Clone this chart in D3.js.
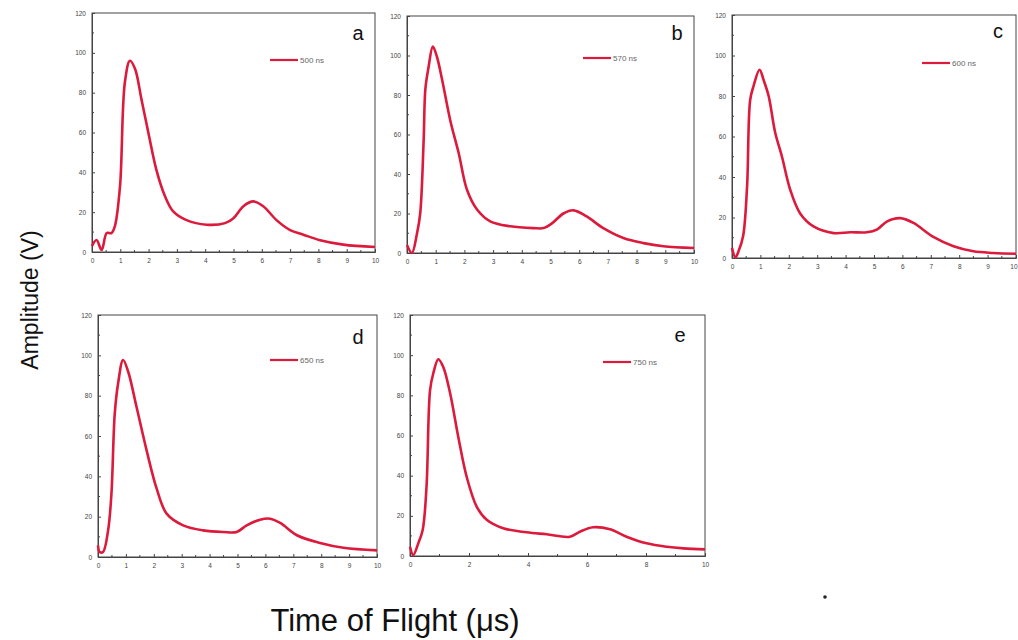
<!DOCTYPE html>
<html><head><meta charset="utf-8">
<script src="https://cdn.jsdelivr.net/npm/d3@7"></script>
<style>body{margin:0;background:#fff;}svg{display:block;font-family:"Liberation Sans",Arial,sans-serif;}</style>
</head><body><svg id="c" width="1018" height="640"></svg>
<script>
const panelLetters = ["a","b","c","d","e"];
const legendLabels = ["500 ns","570 ns","600 ns","650 ns","750 ns"];
const yTicks = [0,20,40,60,80,100,120];
const xTicksMain = [0,1,2,3,4,5,6,7,8,9,10];
const xTicksE = [0,2,4,6,8,10];
const xTitle = "Time of Flight (\u03bcs)";
const yTitle = "Amplitude (V)";

const timeA = [0,0.16,0.34,0.52,0.69,0.81,0.99,1.16,1.34,1.52,1.75,1.99,2.28,2.58,2.87,3.34,4.05,4.7,5.0,5.35,5.7,6.05,6.52,7.0,7.47,8.06,8.88,10];
const ampA  = [3,6,1,9.5,9.5,13,33,85,96,92,76.5,60,41,28,20.4,16,13.7,14.5,17,23,25.4,23,16,11,8.7,5.9,3.7,2.5];
const timeB = [0,0.17,0.35,0.46,0.58,0.64,0.75,0.9,1.04,1.22,1.51,1.8,2.09,2.44,2.9,3.6,4.41,4.76,5.05,5.45,5.8,6.26,6.84,7.54,8.24,8.93,10];
const ampB  = [4,0,10,20,57,83,94,104.5,99.5,88,67,50.6,32,22,16,13.5,12.6,12.6,15,20,21.6,18.5,12.6,7.6,5,3.4,2.5];
const timeC = [0,0.12,0.23,0.39,0.53,0.64,0.76,0.97,1.11,1.29,1.52,1.76,2.05,2.4,2.87,3.58,4.16,4.75,5.1,5.45,5.92,6.39,7.09,7.8,8.5,9.2,10];
const ampC  = [5,0.3,3.3,10.7,35,78,85,93,88,80,62,50,33.7,22,15.6,12.3,12.7,12.7,14,18,19.7,17.3,10.4,5.8,3.3,2.5,2.1];
const timeD = [0,0.06,0.18,0.36,0.48,0.6,0.72,0.9,1.08,1.38,1.74,2.1,2.46,3.05,3.77,4.49,4.97,5.33,5.81,6.17,6.53,7.13,7.96,8.8,10];
const ampD  = [5.8,2.5,2.5,13,31,71,86,97.7,92,74.5,53,34,21.5,15.7,13.2,12.4,12.4,15.7,18.5,19,16.9,10.8,7,4.6,3.3];
const timeE = [0,0.11,0.28,0.43,0.56,0.68,0.79,0.96,1.13,1.36,1.64,1.92,2.26,2.6,3.16,3.95,4.63,5.42,5.76,6.21,6.78,7.34,8.02,8.7,9.27,10];
const ampE  = [4.6,0.5,6.3,13,34.5,82.6,91,98,94,81,59,39.5,24.6,18,13.8,11.8,10.8,9.6,12.1,14.3,13.3,9.6,6.3,4.6,3.8,3.3];

const times = [timeA,timeB,timeC,timeD,timeE];
const amps = [ampA,ampB,ampC,ampD,ampE];

// panel boxes [left, right, top, bottom]
const boxes = [[92,375,13,252],[407,694,16,253],[732,1016,15,258],[98,377,315,557],[410,705,315,556]];
const letterPos = [[358,40],[677,40],[998,38],[358,344],[680,342]];
const legendPos = [[270,60],[583,58],[922,63],[270,360],[603,362]];

const svg = d3.select("#c");
const lineColor = "#dc1a3c";

boxes.forEach((b,i)=>{
  const x = d3.scaleLinear().domain([0,10]).range([b[0],b[1]]);
  const y = d3.scaleLinear().domain([0,120]).range([b[3],b[2]]);
  const g = svg.append("g");
  g.append("rect").attr("x",b[0]).attr("y",b[2]).attr("width",b[1]-b[0]).attr("height",b[3]-b[2])
    .attr("fill","none").attr("stroke","#444").attr("stroke-width",1);
  const xt = i===4 ? xTicksE : xTicksMain;
  const xAxis = d3.axisBottom(x).tickValues(xt).tickSize(-3).tickPadding(6).tickFormat(d3.format("d"));
  const gx = g.append("g").attr("transform",`translate(0,${b[3]})`).call(xAxis);
  const minorX = d3.range(0,10.01,i===4?1:0.5).filter(v=>!xt.includes(v));
  gx.selectAll(".minor").data(minorX).enter().append("line").attr("class","minor")
    .attr("x1",d=>x(d)).attr("x2",d=>x(d)).attr("y1",0).attr("y2",-2).attr("stroke","#444");
  const yAxis = d3.axisLeft(y).tickValues(yTicks).tickSize(-3).tickPadding(6);
  const gy = g.append("g").attr("transform",`translate(${b[0]},0)`).call(yAxis);
  const minorY = d3.range(10,120,20);
  gy.selectAll(".minor").data(minorY).enter().append("line").attr("class","minor")
    .attr("x1",0).attr("x2",2).attr("y1",d=>y(d)).attr("y2",d=>y(d)).attr("stroke","#444");
  [gx,gy].forEach(ax=>{
    ax.select(".domain").attr("stroke","#444");
    ax.selectAll(".tick line").attr("stroke","#444");
    ax.selectAll(".tick text").attr("font-size",6.5).attr("fill","#444").attr("font-family","Liberation Sans, Arial, sans-serif");
  });
  if (b[1] > 1010) {
    gx.selectAll(".tick text").filter(d=>d===10).attr("text-anchor","end").attr("dx","1");
  }
  const data = times[i].map((t,k)=>[t,amps[i][k]]);
  g.append("path").datum(data)
    .attr("d",d3.line().x(d=>x(d[0])).y(d=>y(d[1])).curve(d3.curveCatmullRom.alpha(0.5)))
    .attr("fill","none").attr("stroke",lineColor).attr("stroke-width",2.6).attr("stroke-linejoin","round");
  const lp = legendPos[i];
  g.append("line").attr("x1",lp[0]).attr("x2",lp[0]+28).attr("y1",lp[1]).attr("y2",lp[1])
    .attr("stroke",lineColor).attr("stroke-width",2.2);
  g.append("text").attr("x",lp[0]+30).attr("y",lp[1]+2.5).attr("font-size",8).attr("fill","#666").text(legendLabels[i]);
  g.append("text").attr("x",letterPos[i][0]).attr("y",letterPos[i][1]).attr("text-anchor","middle")
    .attr("font-size",20).attr("fill","#111").text(panelLetters[i]);
});

svg.append("text").attr("transform","translate(38,300) rotate(-90)").attr("text-anchor","middle")
  .attr("font-size",23).attr("fill","#111").text(yTitle);
svg.append("text").attr("x",395).attr("y",631).attr("text-anchor","middle")
  .attr("font-size",31).attr("fill","#111").text(xTitle);
svg.append("circle").attr("cx",825).attr("cy",597).attr("r",1.8).attr("fill","#222");
</script></body></html>
